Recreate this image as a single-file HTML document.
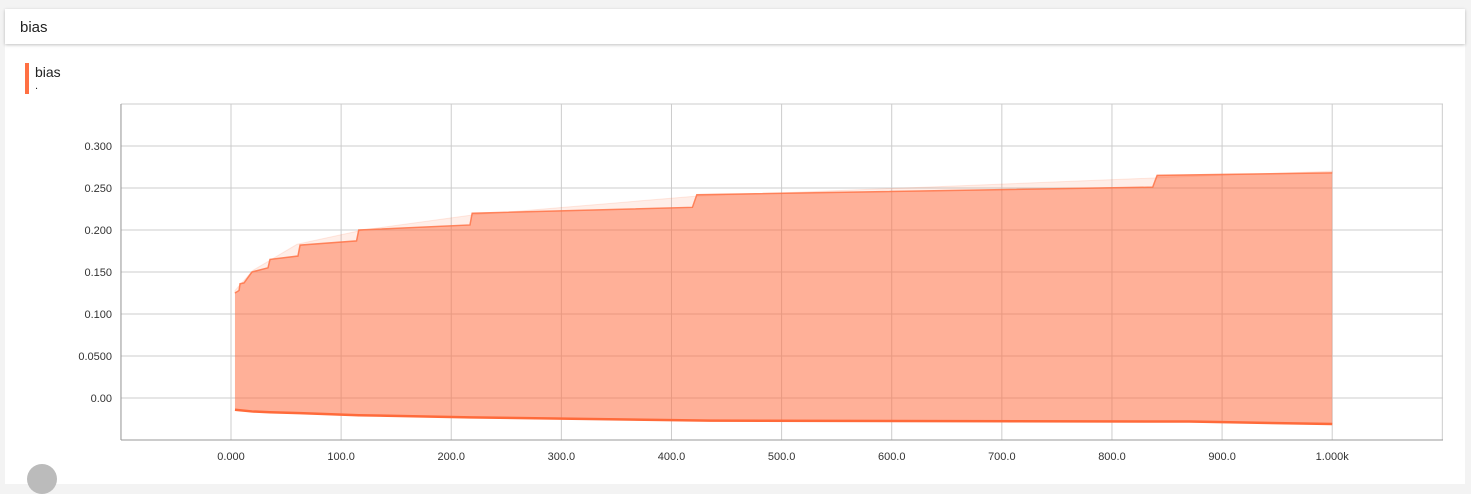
<!DOCTYPE html>
<html><head><meta charset="utf-8"><style>
body{margin:0;width:1471px;height:472px;overflow:hidden;background:#f3f3f3;font-family:"Liberation Sans",Arial,sans-serif;position:relative}
#hdr{position:absolute;left:5px;top:9px;width:1460px;height:35px;background:#fff;box-shadow:0 1px 3px rgba(0,0,0,.25);z-index:2}
#hdr span{position:absolute;left:15px;top:10px;font-size:15px;color:#222}
#panel{position:absolute;left:5px;top:44px;width:1460px;height:440px;background:#fff}
#leg{position:absolute;left:25px;top:63px;width:4px;height:31px;background:#ff7043}
#legt{position:absolute;left:35px;top:64px;font-size:14px;color:#222}
#legd{position:absolute;left:35px;top:80px;font-size:11px;color:#222}
#circ{position:absolute;left:27px;top:464px;width:30px;height:30px;border-radius:50%;background:#bbb}
svg{position:absolute;left:0;top:0}
</style></head><body>
<div id="hdr"><span>bias</span></div>
<div id="panel"></div>
<div id="leg"></div>
<div id="legt">bias</div>
<div id="legd">.</div>
<div id="circ"></div>
<svg id="chart" width="1471" height="472"></svg>
<script>
const upperX=[3.6,7.3,8.2,11.8,19,33.6,35.4,60.8,62.7,114,116,217,219,419,423,837,841,1000];
const upperY=[0.125,0.128,0.136,0.137,0.150,0.155,0.165,0.169,0.182,0.187,0.200,0.206,0.220,0.227,0.242,0.251,0.265,0.268];
const envX=[3.6,20,60,120,220,420,840,1000];
const envY=[0.128,0.152,0.183,0.200,0.218,0.240,0.262,0.270];
const lowerX=[3.6,19,35.4,62.7,116,217,435,870,1000];
const lowerY=[-0.014,-0.016,-0.017,-0.018,-0.0205,-0.023,-0.027,-0.028,-0.031];
const xTicks=[0,100,200,300,400,500,600,700,800,900,1000];
const xTickLabels=["0.000","100.0","200.0","300.0","400.0","500.0","600.0","700.0","800.0","900.0","1.000k"];
const yTicks=[0,0.05,0.1,0.15,0.2,0.25,0.3];
const yTickLabels=["0.00","0.0500","0.100","0.150","0.200","0.250","0.300"];
const L=121,R=1443,T=104,B=440;
const sx=v=>231+v*1.1012;
const sy=v=>398-v*840;
const svg=document.getElementById('chart');
const NS='http://www.w3.org/2000/svg';
function mk(t,a){const e=document.createElementNS(NS,t);for(const k in a)e.setAttribute(k,a[k]);svg.appendChild(e);return e;}
// grid
for(let v=-100;v<=1100;v+=100){const g=mk('line',{x1:sx(v),x2:sx(v),y1:T,y2:B,stroke:'#ccc','stroke-width':1});

}
for(let v=-0.05;v<=0.351;v+=0.05){const g=mk('line',{x1:L,x2:R,y1:sy(v),y2:sy(v),stroke:'#ccc','stroke-width':1});

}
const pts=(xs,ys)=>xs.map((x,i)=>sx(x)+','+sy(ys[i]));
// envelope band
const env=mk('polygon',{points:pts(envX,envY).concat(pts(upperX,upperY).reverse()).join(' '),fill:'#ff7043','fill-opacity':0.12,stroke:'#ff7043','stroke-opacity':0.15});


// main band
const band=mk('polygon',{points:pts(upperX,upperY).concat(pts(lowerX,lowerY).reverse()).join(' '),fill:'#ff7043','fill-opacity':0.55});


const ul=mk('polyline',{points:pts(upperX,upperY).join(' '),fill:'none',stroke:'#ff7043','stroke-width':1.5,'stroke-opacity':0.8});


const ll=mk('polyline',{points:pts(lowerX,lowerY).join(' '),fill:'none',stroke:'#ff6a3a','stroke-width':2.5});


// axes
const xa=mk('line',{x1:L,x2:R,y1:B,y2:B,stroke:'#999'});


const ya=mk('line',{x1:L,x2:L,y1:T,y2:B,stroke:'#999'});


xTicks.forEach((v,i)=>{const t=mk('text',{x:sx(v),y:460,'text-anchor':'middle','font-size':11,fill:'#333','font-family':'Liberation Sans, sans-serif'});t.textContent=xTickLabels[i];

});
yTicks.forEach((v,i)=>{const t=mk('text',{x:112,y:sy(v)+4,'text-anchor':'end','font-size':11,fill:'#333','font-family':'Liberation Sans, sans-serif'});t.textContent=yTickLabels[i];

});
</script>
</body></html>
